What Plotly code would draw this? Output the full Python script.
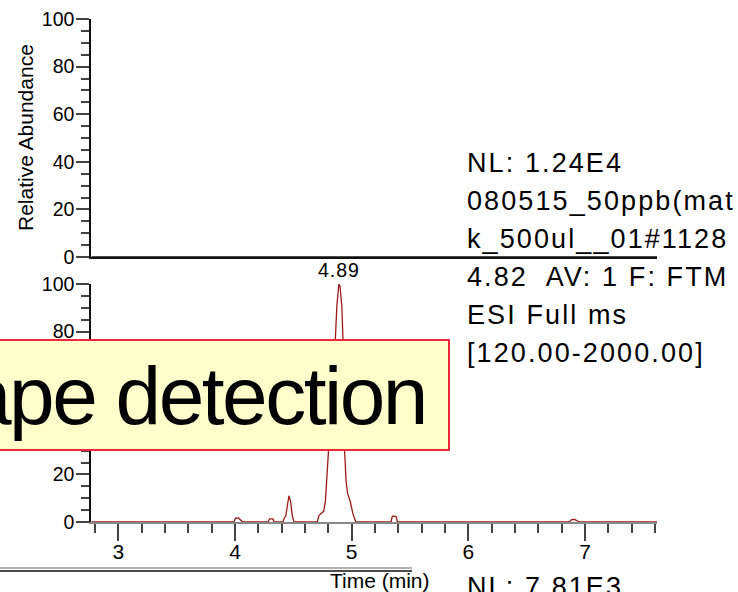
import plotly.graph_objects as go

W, H = 738, 592

# Lower chromatogram: retention time (min) and relative abundance (%)
rt_min = [2.77, 3.99, 4.005, 4.03, 4.055, 4.065,
          4.285, 4.295, 4.325, 4.335,
          4.41, 4.42, 4.435, 4.45, 4.462, 4.475, 4.49, 4.505,
          4.705, 4.72, 4.76, 4.775, 4.788, 4.797, 4.83, 4.86, 4.873, 4.885, 4.89, 4.90,
          4.915, 4.925, 4.94, 4.952, 4.965, 4.988, 5.01, 5.035,
          5.338, 5.345, 5.355, 5.38, 5.392,
          6.865, 6.885, 6.91, 6.94, 6.95, 7.62]
rel_abund = [0, 0, 1.6, 1.7, 0.5, 0,
             0, 1.3, 1.3, 0,
             0, 1.5, 2.5, 8.5, 11, 9, 3, 0,
             0, 2.8, 4.5, 9, 19, 29, 55, 77, 91, 99, 100, 99,
             91, 77, 29, 17, 12, 8.5, 3.5, 0,
             0, 2.0, 2.5, 2.3, 0,
             0, 1.0, 1.1, 0.3, 0, 0]

# Upper chromatogram (flat trace)
rt_top = [2.77, 7.62]
abund_top = [0, 0]

apex_rt = 4.89
nl_lines = ["NL: 1.24E4", "080515_50ppb(mat", "k_500ul__01#1128",
            "4.82  AV: 1 F: FTM", "ESI Full ms", "[120.00-2000.00]"]
nl_next = "NL: 7.81E3"
banner_text = "ape detection"

FONT = "Liberation Sans, Arial, sans-serif"


def px_x(p):
    return p / W


def px_y(p):
    return 1 - p / H


x_range = [2.766, 7.616]
x_dom = [px_x(91), px_x(657)]

fig = go.Figure()
fig.add_trace(go.Scatter(x=rt_min, y=rel_abund, mode="lines", xaxis="x", yaxis="y",
                         line=dict(color="#9e1a1a", width=1.3), cliponaxis=False,
                         hoverinfo="skip", showlegend=False))
fig.add_trace(go.Scatter(x=rt_top, y=abund_top, mode="lines", xaxis="x2", yaxis="y2",
                         line=dict(color="#111111", width=1.3), cliponaxis=False,
                         hoverinfo="skip", showlegend=False))

yaxis_common = dict(range=[0, 100], showline=True, linecolor="#111111", linewidth=1.5,
                    automargin=False, ticklabelstandoff=-2,
                    ticks="outside", ticklen=13, tickwidth=1.5, tickcolor="#444444",
                    dtick=20, tick0=0, showgrid=False, zeroline=False,
                    tickfont=dict(family=FONT, size=19.5, color="#000000"),
                    minor=dict(ticks="outside", ticklen=8, dtick=5, tick0=0,
                               tickcolor="#444444", tickwidth=1.5, showgrid=False))

fig.update_layout(
    width=W, height=H,
    margin=dict(l=0, r=0, t=0, b=0, autoexpand=False),
    paper_bgcolor="white", plot_bgcolor="white",
    showlegend=False,
    font=dict(family=FONT, color="#000000"),
    xaxis=dict(domain=x_dom, range=x_range, anchor="y", showline=True, automargin=False,
               linecolor="#888888", linewidth=2, layer="below traces",
               ticks="outside", ticklen=17, tickwidth=1.5, tickcolor="#444444",
               ticklabelstandoff=-7,
               dtick=1, tick0=0, showgrid=False, zeroline=False,
               tickfont=dict(family=FONT, size=21, color="#000000"),
               minor=dict(ticks="outside", ticklen=9, dtick=0.2, tick0=0,
                          tickcolor="#444444", tickwidth=1.5, showgrid=False)),
    yaxis=dict(domain=[px_y(522), px_y(284)], anchor="x", **yaxis_common),
    xaxis2=dict(domain=x_dom, range=x_range, anchor="y2", showline=True, automargin=False,
                linecolor="#111111", linewidth=1.5, layer="below traces",
                ticks="", showticklabels=False, showgrid=False, zeroline=False),
    yaxis2=dict(domain=[px_y(257), px_y(19)], anchor="x2", **yaxis_common),
)

annotations = []
# y-axis title of the upper panel
annotations.append(dict(text="Relative Abundance", textangle=-90, xref="paper", yref="paper",
                        x=px_x(25.5), y=px_y(137.5), xanchor="center", yanchor="middle",
                        showarrow=False, font=dict(family=FONT, size=21)))
# apex label
annotations.append(dict(text='<span style="letter-spacing:1px">%.2f</span>' % apex_rt,
                        xref="x", yref="paper", x=apex_rt, y=px_y(269.7),
                        xanchor="center", yanchor="middle", showarrow=False,
                        font=dict(family=FONT, size=19.5)))
# scan header block
for i, line in enumerate(nl_lines):
    annotations.append(dict(text='<span style="letter-spacing:2.1px">%s</span>' % line,
                            xref="paper", yref="paper", x=px_x(465), y=px_y(163 + 38 * i),
                            xanchor="left", yanchor="middle", showarrow=False,
                            font=dict(family=FONT, size=27)))
annotations.append(dict(text='<span style="letter-spacing:2.1px">%s</span>' % nl_next,
                        xref="paper", yref="paper", x=px_x(465), y=px_y(586.7),
                        xanchor="left", yanchor="middle", showarrow=False,
                        font=dict(family=FONT, size=27)))
# x-axis title
annotations.append(dict(text="Time (min)", xref="paper", yref="paper",
                        x=px_x(380), y=px_y(580), xanchor="center", yanchor="middle",
                        showarrow=False, font=dict(family=FONT, size=21)))
# banner text
annotations.append(dict(text='<span style="letter-spacing:-2.5px">%s</span>' % banner_text,
                        xref="paper", yref="paper",
                        x=px_x(428), y=px_y(395.6), xanchor="right", yanchor="middle",
                        showarrow=False,
                        font=dict(family=FONT, size=82, color="#000000")))
fig.update_layout(annotations=annotations)

shapes = [
    # banner box
    dict(type="rect", xref="paper", yref="paper", x0=-0.02, x1=px_x(449),
         y0=px_y(450), y1=px_y(340), fillcolor="#ffffcc",
         line=dict(color="#f0283c", width=2), layer="above"),
    # frame of the next panel
    dict(type="line", xref="paper", yref="paper", x0=-0.01, x1=px_x(412),
         y0=px_y(568), y1=px_y(568), line=dict(color="#666666", width=1), layer="above"),
    dict(type="line", xref="paper", yref="paper", x0=-0.01, x1=px_x(412),
         y0=px_y(571), y1=px_y(571), line=dict(color="#111111", width=1.5), layer="above"),
]
fig.update_layout(shapes=shapes)

fig.write_html("out.html")
